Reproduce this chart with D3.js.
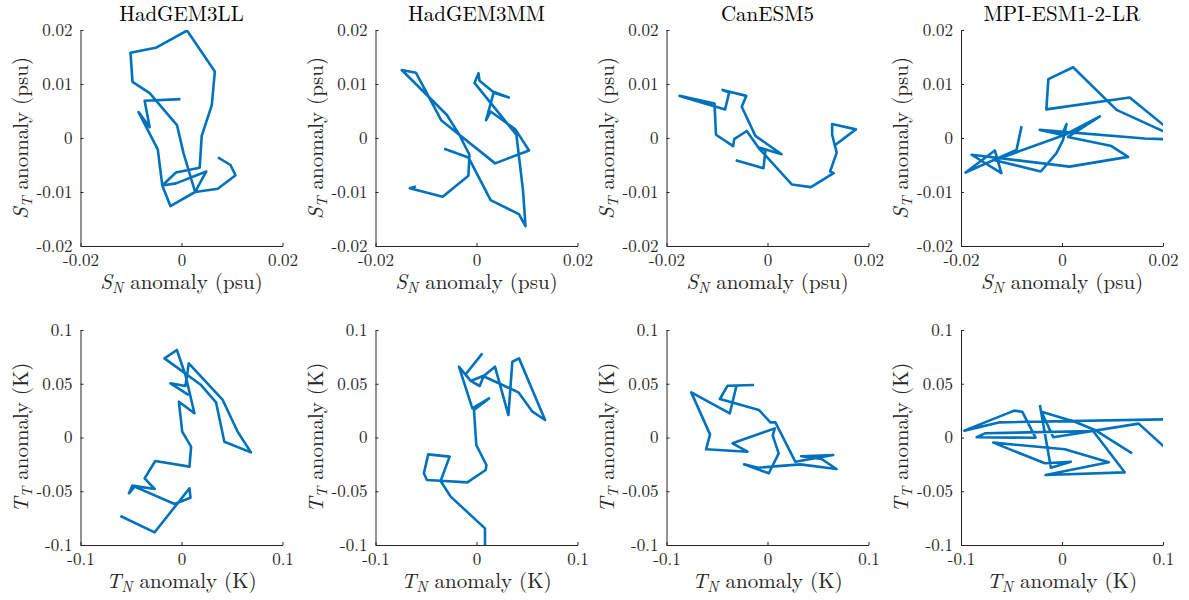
<!DOCTYPE html>
<html>
<head>
<meta charset="utf-8">
<script src="https://cdn.jsdelivr.net/npm/d3@7"></script>
<style>
  body { margin: 0; background: #fff; }
  .axis path, .axis line { stroke: #262626; stroke-width: 1; }
</style>
</head>
<body>
<svg width="1189" height="600"></svg>
<script>
var models = ["HadGEM3LL", "HadGEM3MM", "CanESM5", "MPI-ESM1-2-LR"];

var salXTicks = [-0.02, 0, 0.02];
var salYTicks = [-0.02, -0.01, 0, 0.01, 0.02];
var tempXTicks = [-0.1, 0, 0.1];
var tempYTicks = [-0.1, -0.05, 0, 0.05, 0.1];

// salinity anomalies, [S_N, S_T] (psu)
var salHadLL = [[-0.0002,0.0072],[-0.0073,0.0069],[-0.0063,0.0020],[-0.0085,0.0048],[-0.0047,-0.0021],[-0.0038,-0.0088],[-0.0011,-0.0064],[0.0036,-0.0055],[0.0040,0.0004],[0.0060,0.0061],[0.0066,0.0123],[0.0011,0.0199],[-0.0051,0.0167],[-0.0101,0.0158],[-0.0097,0.0104],[-0.0063,0.0083],[-0.0009,0.0024],[0.0004,-0.0028],[0.0027,-0.0100],[0.0049,-0.0062],[-0.0011,-0.0084],[-0.0038,-0.0088],[-0.0022,-0.0126],[0.0027,-0.0100],[0.0072,-0.0094],[0.0107,-0.0069],[0.0097,-0.0050],[0.0072,-0.0036]];
var salHadMM = [[-0.0064,-0.0020],[-0.0016,-0.0036],[0.0028,-0.0115],[0.0084,-0.0141],[0.0097,-0.0163],[0.0092,-0.0096],[0.0079,0.0006],[-0.0004,0.0102],[0.0004,0.0120],[0.0006,0.0106],[0.0032,0.0086],[0.0064,0.0075],[0.0034,0.0084],[0.0019,0.0033],[0.0028,0.0049],[0.0077,0.0016],[0.0104,-0.0023],[0.0037,-0.0047],[-0.0070,0.0033],[-0.0120,0.0121],[-0.0148,0.0126],[-0.0059,0.0043],[-0.0034,0.0006],[-0.0014,-0.0031],[-0.0016,-0.0070],[-0.0067,-0.0109],[-0.0132,-0.0093],[-0.0120,-0.0090]];
var salCan = [[-0.0063,-0.0041],[-0.0037,-0.0048],[-0.0008,-0.0056],[-0.0004,-0.0023],[-0.0019,-0.0017],[0.0028,-0.0030],[-0.0024,0.0004],[-0.0051,0.0058],[-0.0042,0.0078],[-0.0089,0.0089],[-0.0076,0.0084],[-0.0084,0.0053],[-0.0174,0.0078],[-0.0105,0.0064],[-0.0102,0.0006],[-0.0068,-0.0015],[-0.0066,-0.0002],[-0.0041,0.0013],[-0.0017,-0.0019],[0.0048,-0.0086],[0.0086,-0.0091],[0.0131,-0.0065],[0.0124,-0.0062],[0.0137,-0.0027],[0.0128,0.0006],[0.0128,0.0026],[0.0175,0.0016],[0.0134,-0.0013]];
var salMPI = [[-0.0080,0.0022],[-0.0090,-0.0022],[-0.0191,-0.0064],[-0.0133,-0.0023],[-0.0120,-0.0065],[-0.0179,-0.0031],[0.0015,-0.0053],[0.0131,-0.0035],[0.0098,-0.0015],[0.0012,0.0002],[0.0075,0.0040],[0.0006,0.0006],[-0.0133,-0.0041],[-0.0042,-0.0062],[-0.0011,-0.0028],[0.0002,-0.0004],[0.0009,0.0026],[0.0000,0.0006],[-0.0044,0.0015],[0.0164,-0.0001],[0.0230,-0.0003],[0.0230,0.0000],[0.0108,0.0052],[0.0022,0.0131],[-0.0027,0.0109],[-0.0031,0.0053],[0.0134,0.0075],[0.0230,0.0002]];

// temperature anomalies, [T_N, T_T] (K)
var tempHadLL = [[0.0072,0.0395],[-0.0109,0.0504],[0.0039,0.0479],[0.0072,0.0690],[0.0408,0.0349],[0.0556,0.0054],[0.0688,-0.0138],[0.0424,-0.0039],[0.0342,0.0327],[0.0194,0.0488],[-0.0168,0.0736],[-0.0046,0.0814],[0.0039,0.0581],[0.0128,0.0225],[-0.0026,0.0333],[0.0007,0.0054],[0.0095,-0.0085],[0.0079,-0.0271],[-0.0260,-0.0219],[-0.0365,-0.0380],[-0.0266,-0.0479],[-0.0487,-0.0448],[-0.0520,-0.0519],[-0.0464,-0.0457],[-0.0069,-0.0619],[0.0089,-0.0560],[0.0079,-0.0473],[-0.0266,-0.0882],[-0.0605,-0.0730]];
var tempHadMM = [[0.0084,-0.1031],[0.0084,-0.0845],[-0.0256,-0.0550],[-0.0355,-0.0405],[-0.0266,-0.0178],[-0.0478,-0.0157],[-0.0521,-0.0333],[-0.0491,-0.0395],[-0.0355,-0.0402],[-0.0091,-0.0417],[0.0091,-0.0302],[0.0098,-0.0256],[-0.0002,-0.0070],[-0.0025,0.0256],[0.0124,0.0364],[-0.0041,0.0271],[-0.0174,0.0659],[-0.0058,0.0526],[0.0031,0.0479],[0.0071,0.0572],[0.0183,0.0659],[0.0316,0.0209],[0.0355,0.0705],[0.0421,0.0736],[0.0679,0.0163],[0.0554,0.0240],[0.0415,0.0420],[0.0064,0.0572],[-0.0058,0.0526],[-0.0107,0.0588],[0.0058,0.0783]];
var tempCan = [[-0.0134,0.0488],[-0.0395,0.0482],[-0.0471,0.0358],[-0.0085,0.0256],[0.0029,0.0141],[0.0078,0.0141],[0.0275,-0.0225],[0.0650,-0.0163],[0.0333,-0.0175],[0.0536,-0.0200],[0.0683,-0.0293],[0.0324,-0.0250],[-0.0092,-0.0281],[-0.0232,-0.0250],[0.0013,-0.0333],[0.0111,-0.0147],[0.0052,0.0017],[0.0072,0.0085],[-0.0346,-0.0054],[-0.0199,-0.0132],[-0.0608,-0.0110],[-0.0569,0.0029],[-0.0755,0.0420],[-0.0373,0.0225],[-0.0307,0.0482]];
var tempMPI = [[0.0694,-0.0147],[0.0325,0.0070],[0.0127,0.0147],[-0.0203,0.0240],[-0.0087,0.0002],[0.0759,0.0129],[0.1200,-0.0246],[0.1200,0.0172],[-0.0614,0.0141],[-0.0967,0.0064],[-0.0473,0.0250],[-0.0394,0.0240],[-0.0262,-0.0002],[-0.0845,0.0002],[-0.0763,0.0039],[0.0308,0.0060],[0.0621,-0.0324],[-0.0163,-0.0349],[0.0463,-0.0231],[0.0028,-0.0110],[-0.0680,-0.0048],[-0.0170,-0.0240],[0.0087,-0.0225],[-0.0110,-0.0281],[-0.0219,0.0302]];

var salData = [salHadLL, salHadMM, salCan, salMPI];
var tempData = [tempHadLL, tempHadMM, tempCan, tempMPI];

var FONT = "Latin Modern Roman";

var svg = d3.select("svg");
var lefts = [80.5, 375.5, 666.5, 961],
    pw = 202,
    rows = [{top: 30, height: 216}, {top: 330, height: 215}];

function fmt(d) { return d === 0 ? "0" : String(d); }

function drawPanel(i, r, data, dom, xt, yt, sym, unit, title) {
  var left = lefts[i], top = rows[r].top, ph = rows[r].height;
  var g = svg.append("g").attr("transform", "translate(" + left + "," + top + ")");

  var x = d3.scaleLinear().domain(dom).range([0, pw]);
  var y = d3.scaleLinear().domain(dom).range([ph, 0]);

  g.append("g").attr("class", "axis").attr("transform", "translate(0," + ph + ")")
    .call(d3.axisBottom(x).tickValues(xt).tickFormat(fmt).tickSizeInner(-3).tickSizeOuter(0).tickPadding(8));
  g.append("g").attr("class", "axis")
    .call(d3.axisLeft(y).tickValues(yt).tickFormat(fmt).tickSizeInner(-3).tickSizeOuter(0).tickPadding(8));
  g.selectAll(".axis").attr("font-family", null).attr("font-size", null);
  g.selectAll(".axis text")
    .attr("font-family", FONT).attr("font-size", 17).attr("fill", "#262626");

  var cid = "clip" + r + i;
  g.append("clipPath").attr("id", cid).append("rect").attr("width", pw).attr("height", ph);

  var line = d3.line().x(function (d) { return x(d[0]); }).y(function (d) { return y(d[1]); });
  g.append("path").datum(data)
    .attr("clip-path", "url(#" + cid + ")")
    .attr("fill", "none")
    .attr("stroke", "#0072BD")
    .attr("stroke-width", 2.6)
    .attr("stroke-linejoin", "round")
    .attr("d", line);

  // x label
  var xl = g.append("text").attr("x", pw / 2).attr("y", ph + 43).attr("text-anchor", "middle")
    .attr("font-family", FONT).attr("font-size", 21).attr("fill", "#262626");
  xl.append("tspan").attr("font-style", "italic").text(sym);
  xl.append("tspan").attr("font-style", "italic").attr("font-size", 15).attr("dy", 4).text("N");
  xl.append("tspan").attr("dy", -4).text(" anomaly (" + unit + ")");

  // y label
  var yl = g.append("text").attr("transform", "translate(-53," + (ph / 2) + ") rotate(-90)")
    .attr("text-anchor", "middle").attr("font-family", FONT).attr("font-size", 21).attr("fill", "#262626");
  yl.append("tspan").attr("font-style", "italic").text(sym);
  yl.append("tspan").attr("font-style", "italic").attr("font-size", 15).attr("dy", 4).text("T");
  yl.append("tspan").attr("dy", -4).text(" anomaly (" + unit + ")");

  if (title) {
    g.append("text").attr("x", pw / 2).attr("y", -9).attr("text-anchor", "middle")
      .attr("font-family", FONT).attr("font-size", 21).attr("fill", "#000").text(title);
  }
}

models.forEach(function (m, i) {
  drawPanel(i, 0, salData[i], [-0.02, 0.02], salXTicks, salYTicks, "S", "psu", m);
  drawPanel(i, 1, tempData[i], [-0.1, 0.1], tempXTicks, tempYTicks, "T", "K", null);
});
</script>
</body>
</html>
